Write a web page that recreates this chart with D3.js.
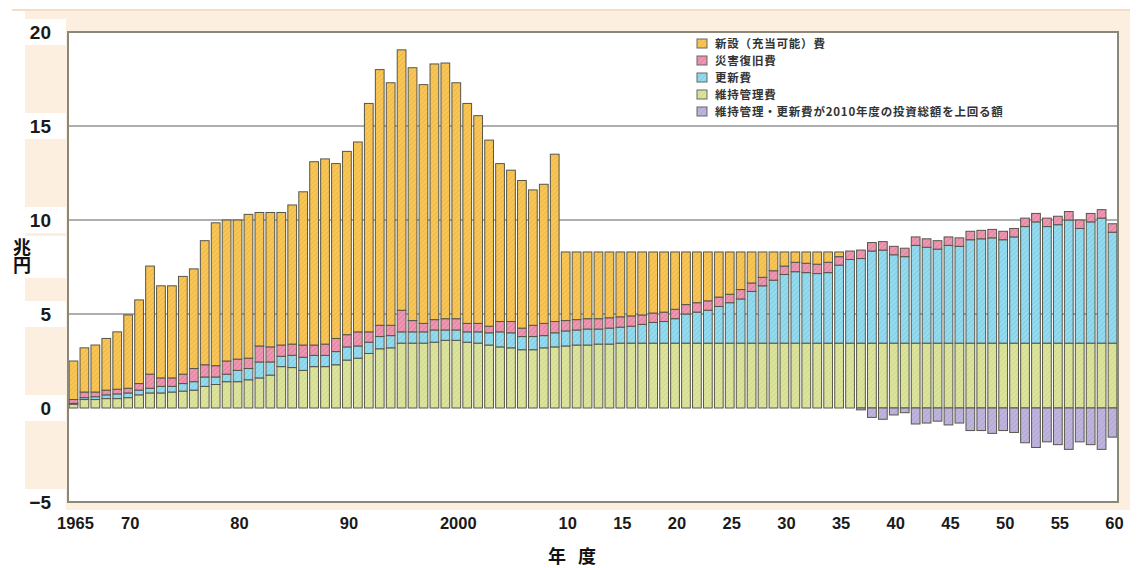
<!DOCTYPE html>
<html>
<head>
<meta charset="utf-8">
<script src="https://cdn.jsdelivr.net/npm/d3@7"></script>
<style>
  body { margin: 0; background: #fff; }
  svg { display: block; }
</style>
</head>
<body>
<svg id="chart" width="1137" height="568"></svg>
<script>
// Fiscal years 1965–2060
const years = d3.range(1965, 2061);

// 維持管理費 (trillion yen)
const maintenance = [
  0.2, 0.45, 0.45, 0.5, 0.5, 0.55, 0.7, 0.8, 0.8, 0.85,
  0.9, 0.95, 1.15, 1.25, 1.4, 1.4, 1.5, 1.6, 1.75, 2.2,
  2.15, 2.0, 2.2, 2.2, 2.3, 2.55, 2.65, 2.9, 3.15, 3.2,
  3.45, 3.45, 3.45, 3.5, 3.6, 3.6, 3.5, 3.45, 3.35, 3.25,
  3.2, 3.1, 3.1, 3.2, 3.25, 3.3, 3.35, 3.35, 3.4, 3.4,
  3.45, 3.45, 3.45, 3.45, 3.45, 3.45, 3.45, 3.45, 3.45, 3.45,
  3.45, 3.45, 3.45, 3.45, 3.45, 3.45, 3.45, 3.45, 3.45, 3.45,
  3.45, 3.45, 3.45, 3.45, 3.45, 3.45, 3.45, 3.45, 3.45, 3.45,
  3.45, 3.45, 3.45, 3.45, 3.45, 3.45, 3.45, 3.45, 3.45, 3.45,
  3.45, 3.45, 3.45, 3.45, 3.45, 3.45
];

// 更新費
const renewal = [
  0.05, 0.1, 0.15, 0.2, 0.25, 0.25, 0.25, 0.25, 0.35, 0.3,
  0.4, 0.45, 0.5, 0.4, 0.4, 0.6, 0.6, 0.85, 0.7, 0.55,
  0.65, 0.7, 0.6, 0.6, 0.7, 0.7, 0.65, 0.6, 0.65, 0.65,
  0.6, 0.6, 0.6, 0.65, 0.55, 0.55, 0.55, 0.6, 0.65, 0.8,
  0.8, 0.7, 0.7, 0.65, 0.75, 0.8, 0.8, 0.85, 0.8, 0.85,
  0.85, 0.9, 1.0, 1.1, 1.15, 1.3, 1.55, 1.65, 1.75, 1.95,
  2.15, 2.35, 2.75, 3.05, 3.35, 3.65, 3.8, 3.75, 3.7, 3.75,
  4.15, 4.45, 4.5, 4.9, 4.95, 4.7, 4.6, 5.2, 5.1, 5.0,
  5.2, 5.15, 5.5, 5.55, 5.6, 5.5, 5.65, 6.2, 6.45, 6.2,
  6.3, 6.55, 6.1, 6.45, 6.65, 5.9
];

// 災害復旧費
const disaster = [
  0.2, 0.3, 0.25, 0.25, 0.25, 0.25, 0.35, 0.75, 0.45, 0.45,
  0.5, 0.7, 0.65, 0.6, 0.7, 0.6, 0.55, 0.85, 0.8, 0.6,
  0.6, 0.65, 0.55, 0.6, 0.7, 0.65, 0.75, 0.55, 0.6, 0.55,
  1.15, 0.6, 0.45, 0.55, 0.6, 0.6, 0.45, 0.45, 0.35, 0.55,
  0.6, 0.45, 0.6, 0.65, 0.6, 0.55, 0.55, 0.55, 0.55, 0.55,
  0.55, 0.55, 0.5, 0.5, 0.5, 0.5, 0.5, 0.5, 0.5, 0.5,
  0.45, 0.5, 0.45, 0.45, 0.5, 0.45, 0.5, 0.5, 0.5, 0.55,
  0.45, 0.45, 0.45, 0.45, 0.45, 0.45, 0.45, 0.45, 0.45, 0.45,
  0.45, 0.45, 0.45, 0.45, 0.45, 0.45, 0.45, 0.45, 0.45, 0.45,
  0.45, 0.45, 0.45, 0.45, 0.45, 0.45
];

// 新設（充当可能）費
const newBuild = [
  2.05, 2.35, 2.5, 2.75, 3.05, 3.9, 4.45, 5.75, 4.9, 4.9,
  5.2, 5.3, 6.6, 7.6, 7.5, 7.4, 7.65, 7.1, 7.15, 7.05,
  7.4, 8.15, 9.75, 9.85, 9.3, 9.75, 10.1, 12.15, 13.6, 12.9,
  13.85, 13.45, 12.7, 13.6, 13.6, 12.55, 11.7, 11.05, 9.9, 8.4,
  8.05, 7.85, 7.2, 7.4, 8.9, 3.65, 3.6, 3.55, 3.55, 3.5,
  3.45, 3.4, 3.35, 3.25, 3.2, 3.05, 2.8, 2.7, 2.6, 2.4,
  2.25, 2.0, 1.65, 1.35, 1.0, 0.75, 0.55, 0.6, 0.65, 0.55,
  0.25, 0, 0, 0, 0, 0, 0, 0, 0, 0,
  0, 0, 0, 0, 0, 0, 0, 0, 0, 0,
  0, 0, 0, 0, 0, 0
];

// 維持管理・更新費が2010年度の投資総額を上回る額 (drawn below zero)
const excess = [
  0, 0, 0, 0, 0, 0, 0, 0, 0, 0,
  0, 0, 0, 0, 0, 0, 0, 0, 0, 0,
  0, 0, 0, 0, 0, 0, 0, 0, 0, 0,
  0, 0, 0, 0, 0, 0, 0, 0, 0, 0,
  0, 0, 0, 0, 0, 0, 0, 0, 0, 0,
  0, 0, 0, 0, 0, 0, 0, 0, 0, 0,
  0, 0, 0, 0, 0, 0, 0, 0, 0, 0,
  0, 0, -0.1, -0.5, -0.6, -0.37, -0.25, -0.85, -0.8, -0.7,
  -0.9, -0.8, -1.2, -1.2, -1.35, -1.2, -1.3, -1.85, -2.1, -1.8,
  -1.95, -2.2, -1.8, -1.95, -2.2, -1.55
];

const yTicks = [-5, 0, 5, 10, 15, 20];
const yTickLabels = ["\u22125", "0", "5", "10", "15", "20"];
const gridValues = [5, 10, 15];
const xTickYears = [1965, 1970, 1980, 1990, 2000, 2010, 2015, 2020, 2025, 2030, 2035, 2040, 2045, 2050, 2055, 2060];
const xTickLabels = ["1965", "70", "80", "90", "2000", "10", "15", "20", "25", "30", "35", "40", "45", "50", "55", "60"];

const legendItems = [
  { key: "newBuild", label: "新設（充当可能）費" },
  { key: "disaster", label: "災害復旧費" },
  { key: "renewal", label: "更新費" },
  { key: "maintenance", label: "維持管理費" },
  { key: "excess", label: "維持管理・更新費が2010年度の投資総額を上回る額" }
];

const palette = {
  newBuild:    { base: "#F8C656", stripe: "#E9AD3E" },
  disaster:    { base: "#EE96B2", stripe: "#D97494" },
  renewal:     { base: "#95DBEF", stripe: "#72C3DC" },
  maintenance: { base: "#DCE49C", stripe: "#C8D184" },
  excess:      { base: "#BEB4DE", stripe: "#A89DCA" }
};

const rows = years.map((yr, i) => ({
  year: yr,
  maintenance: maintenance[i],
  renewal: renewal[i],
  disaster: disaster[i],
  newBuild: newBuild[i],
  excess: excess[i]
}));

const svg = d3.select("#chart");
const plot = { left: 68, right: 1118, top: 32, bottom: 502 };

const x = d3.scaleBand().domain(years).range([plot.left, plot.right]).paddingInner(0.2).paddingOuter(0.1);
const y = d3.scaleLinear().domain([-5, 20]).range([plot.bottom, plot.top]);

// hatched fills
const defs = svg.append("defs");
Object.entries(palette).forEach(([key, c]) => {
  const p = defs.append("pattern")
    .attr("id", "hatch-" + key)
    .attr("patternUnits", "userSpaceOnUse")
    .attr("width", 3.5).attr("height", 3.5)
    .attr("patternTransform", "rotate(45)");
  p.append("rect").attr("width", 3.5).attr("height", 3.5).attr("fill", c.base);
  p.append("line").attr("x1", 0).attr("y1", 0).attr("x2", 0).attr("y2", 3.5)
    .attr("stroke", c.stripe).attr("stroke-width", 1.1);
});

// page frame
svg.append("rect").attr("x", 25).attr("y", 10).attr("width", 1105).attr("height", 500).attr("fill", "#FDEFDF");
svg.append("line").attr("x1", 12).attr("x2", 1130).attr("y1", 10).attr("y2", 10)
  .attr("stroke", "#F4DDC4").attr("stroke-width", 2);
svg.append("rect").attr("x", plot.left).attr("y", plot.top)
  .attr("width", plot.right - plot.left).attr("height", plot.bottom - plot.top).attr("fill", "#fff");

// clear patches behind the value labels
svg.append("g").selectAll("rect").data(yTicks).join("rect")
  .attr("x", 22).attr("width", 44)
  .attr("y", d => y(d) - 13).attr("height", 26)
  .attr("fill", "#fff");
// clear patch behind the unit title
svg.append("rect").attr("x", 8).attr("y", 236).attr("width", 58).attr("height", 42).attr("fill", "#fff");

// horizontal gridlines
svg.append("g").selectAll("line").data(gridValues).join("line")
  .attr("x1", plot.left).attr("x2", plot.right)
  .attr("y1", d => y(d)).attr("y2", d => y(d))
  .attr("stroke", "#5f5f5f").attr("stroke-width", 1);

// stacked positive components
const stackKeys = ["maintenance", "renewal", "disaster", "newBuild"];
const stacked = d3.stack().keys(stackKeys)(rows);

const barStroke = "#56564a";
svg.append("g").selectAll("g").data(stacked).join("g")
  .attr("fill", s => "url(#hatch-" + s.key + ")")
  .selectAll("rect")
  .data(s => s.filter(d => d[1] - d[0] > 0))
  .join("rect")
  .attr("x", d => x(d.data.year))
  .attr("width", x.bandwidth())
  .attr("y", d => y(d[1]))
  .attr("height", d => y(d[0]) - y(d[1]))
  .attr("stroke", barStroke)
  .attr("stroke-width", 1);

// negative component
svg.append("g").selectAll("rect")
  .data(rows.filter(d => d.excess < 0))
  .join("rect")
  .attr("x", d => x(d.year))
  .attr("width", x.bandwidth())
  .attr("y", y(0))
  .attr("height", d => y(d.excess) - y(0))
  .attr("fill", "url(#hatch-excess)")
  .attr("stroke", barStroke)
  .attr("stroke-width", 1);

// plot border
svg.append("rect").attr("x", plot.left).attr("y", plot.top)
  .attr("width", plot.right - plot.left).attr("height", plot.bottom - plot.top)
  .attr("fill", "none").attr("stroke", "#8b887a").attr("stroke-width", 2);

// y axis labels
const yAxis = d3.axisLeft(y).tickValues(yTicks).tickSize(0).tickPadding(0)
  .tickFormat((d, i) => yTickLabels[i]);
const gy = svg.append("g").attr("transform", "translate(51,0)").call(yAxis);
gy.select(".domain").remove();
gy.selectAll("text")
  .attr("font-family", "'Liberation Sans', Arial, sans-serif")
  .attr("font-weight", "bold").attr("font-size", 19).attr("fill", "#1a1a1a");

// x axis labels
const xAxis = d3.axisBottom(x).tickValues(xTickYears).tickSize(0).tickPadding(0)
  .tickFormat(d => xTickLabels[xTickYears.indexOf(d)]);
const gx = svg.append("g").attr("transform", "translate(2,517)").call(xAxis);
gx.select(".domain").remove();
gx.selectAll("text")
  .attr("font-family", "'Liberation Sans', Arial, sans-serif")
  .attr("font-weight", "bold").attr("font-size", 16.5).attr("fill", "#1a1a1a");

// axis titles
const cjk = "'Noto Sans CJK JP', sans-serif";
svg.append("text")
  .attr("x", 22).attr("y", 238)
  .style("writing-mode", "vertical-rl")
  .attr("font-family", cjk).attr("font-weight", "bold").attr("font-size", 18)
  .attr("letter-spacing", 0).attr("fill", "#111")
  .text("兆円");
svg.append("text").attr("x", 574).attr("y", 563).attr("text-anchor", "middle")
  .attr("font-family", cjk).attr("font-weight", "bold").attr("font-size", 18)
  .attr("letter-spacing", 4).attr("fill", "#111")
  .text("年 度");

// legend
const legend = svg.append("g").attr("transform", "translate(697,39)");
const li = legend.selectAll("g").data(legendItems).join("g")
  .attr("transform", (d, i) => `translate(0,${i * 17})`);
li.append("rect").attr("width", 10).attr("height", 9)
  .attr("fill", d => "url(#hatch-" + d.key + ")")
  .attr("stroke", "#666").attr("stroke-width", 1);
li.append("text").attr("x", 18).attr("y", 8.5)
  .attr("font-family", cjk).attr("font-size", 11.5).attr("font-weight", "bold")
  .attr("letter-spacing", 0.8).attr("fill", "#333")
  .text(d => d.label);
</script>
</body>
</html>
